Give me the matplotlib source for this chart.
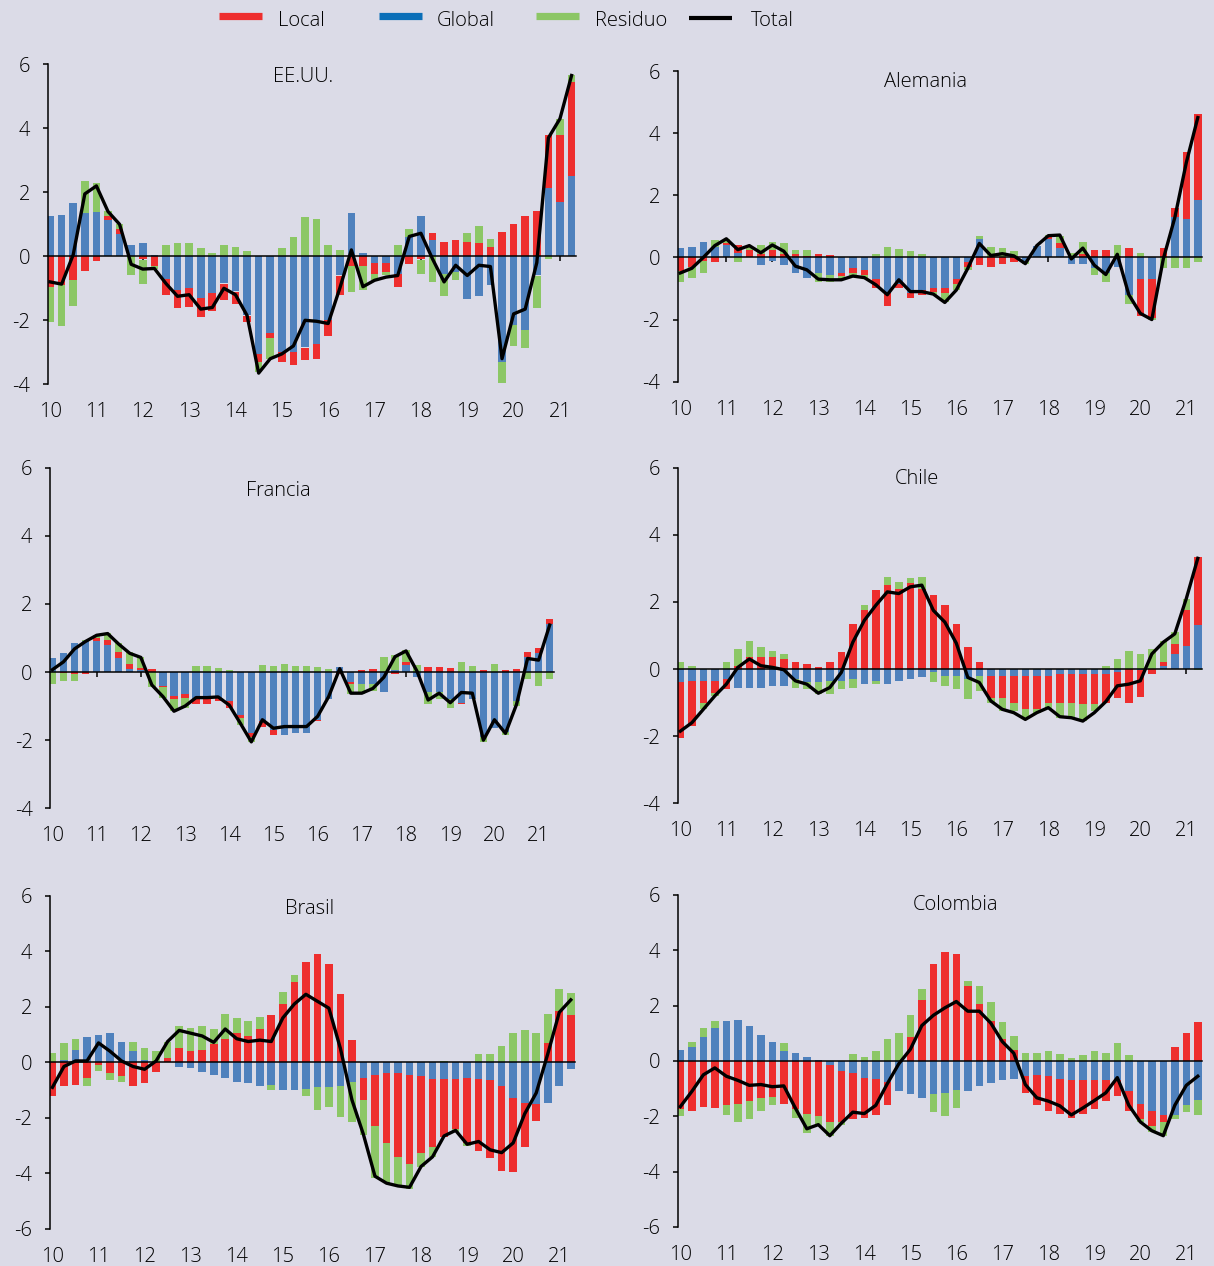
import numpy as np
import matplotlib.pyplot as plt
from matplotlib.lines import Line2D

plt.rcParams['font.family'] = ['Open Sans', 'DejaVu Sans']
plt.rcParams['font.weight'] = 'light'

W, H = 1214, 1266
FONDO = '#DBDBE7'
ROJO = '#EE2E2E'
AZUL = '#4F81BD'
VERDE = '#8CC766'

anios = ['10', '11', '12', '13', '14', '15', '16', '17', '18', '19', '20', '21']
trimestres = np.arange(46)   # 2010T1 .. 2021T2

# --- EE.UU. ---
eeuu_local = [-0.95, -0.9, -0.75, -0.45, -0.15, 0.1, 0.15, 0.0, -0.1, -0.3, -0.5, -0.55, -0.6, -0.6, -0.55, -0.5,
              -0.4, -0.2, -0.25, -0.15, -0.3, -0.4, -0.4, -0.45, -0.5, -0.6, -0.3, -0.3, -0.35, -0.3, -0.4, -0.25,
              -0.1, 0.22, 0.45, 0.5, 0.45, 0.42, 0.3, 0.75, 1.0, 1.25, 1.4, 1.65, 2.1, 2.95]
eeuu_global = [1.25, 1.3, 1.65, 1.35, 1.4, 1.15, 0.7, 0.35, 0.4, 0.05, -0.7, -1.05, -1.0, -1.3, -1.15, -0.85,
               -1.1, -1.85, -3.05, -2.4, -3.0, -3.0, -2.85, -2.75, -2.0, -0.6, 1.35, 0.1, -0.2, -0.2, -0.55, 0.6,
               1.27, 0.5, -0.55, -0.5, -1.35, -1.25, -0.9, -3.3, -2.15, -2.3, -0.6, 2.15, 1.7, 2.5]
eeuu_resid = [-1.1, -1.27, -0.8, 1.0, 0.9, 0.15, 0.15, -0.6, -0.75, -0.1, 0.35, 0.4, 0.42, 0.25, 0.1, 0.35,
              0.28, 0.18, -0.3, -0.65, 0.27, 0.6, 1.23, 1.15, 0.35, 0.2, -0.8, -0.75, -0.2, -0.1, 0.35, 0.25,
              -0.45, -0.8, -0.7, -0.25, 0.27, 0.53, 0.25, -0.65, -0.65, -0.55, -1.0, -0.1, 0.5, 0.2]
eeuu_total = [-0.8, -0.87, 0.05, 1.95, 2.2, 1.4, 1.0, -0.25, -0.4, -0.38, -0.85, -1.25, -1.2, -1.65, -1.6, -1.0,
              -1.2, -1.85, -3.65, -3.2, -3.05, -2.8, -2.0, -2.03, -2.1, -1.0, 0.2, -0.95, -0.75, -0.65, -0.6, 0.62,
              0.72, -0.08, -0.8, -0.28, -0.6, -0.28, -0.32, -3.2, -1.8, -1.65, -0.2, 3.7, 4.3, 5.65]

# --- Alemania ---
ale_local = [-0.45, -0.3, -0.1, -0.15, 0.05, 0.25, 0.25, 0.1, 0.25, 0.1, 0.1, 0.05, 0.1, 0.08, -0.1, -0.15,
             -0.15, -0.3, -0.4, -0.15, -0.15, -0.15, -0.1, -0.15, -0.15, -0.15, -0.25, -0.3, -0.2, -0.15, 0.0, 0.0,
             0.05, 0.15, 0.0, 0.1, 0.25, 0.25, 0.05, 0.3, -1.2, -1.25, 0.3, 0.3, 2.15, 2.75]
ale_global = [0.3, 0.35, 0.5, 0.35, 0.4, 0.15, 0.0, -0.25, -0.1, -0.25, -0.5, -0.65, -0.5, -0.55, -0.5, -0.35,
              -0.4, -0.7, -1.15, -0.85, -1.15, -1.05, -1.0, -1.0, -0.7, -0.15, 0.6, 0.0, 0.0, 0.0, -0.1, 0.38,
              0.6, 0.3, -0.2, -0.2, -0.35, -0.5, -0.3, -1.2, -0.7, -0.7, 0.0, 1.3, 1.25, 1.85]
ale_resid = [-0.35, -0.35, -0.4, 0.2, 0.15, -0.15, 0.1, 0.3, 0.25, 0.35, 0.15, 0.2, -0.3, -0.25, -0.1, -0.1,
             -0.1, 0.1, 0.35, 0.28, 0.2, 0.1, -0.1, -0.3, -0.2, -0.1, 0.1, 0.35, 0.3, 0.2, -0.1, 0.0,
             0.07, 0.25, 0.15, 0.4, -0.2, -0.3, 0.35, -0.3, 0.15, -0.05, -0.35, -0.35, -0.35, -0.15]
ale_total = [-0.5, -0.35, 0.0, 0.38, 0.6, 0.25, 0.38, 0.15, 0.4, 0.2, -0.28, -0.4, -0.7, -0.72, -0.72, -0.6,
             -0.65, -0.88, -1.2, -0.72, -1.1, -1.1, -1.18, -1.45, -1.05, -0.35, 0.45, 0.06, 0.12, 0.05, -0.2, 0.38,
             0.7, 0.72, -0.05, 0.3, -0.25, -0.55, 0.1, -1.2, -1.8, -2.0, -0.05, 1.28, 3.05, 4.5]

# --- Francia ---
fra_local = [0.0, -0.02, -0.05, -0.05, 0.1, 0.15, 0.2, 0.15, 0.07, 0.08, -0.05, -0.08, -0.1, -0.15, -0.15, -0.1,
             -0.2, -0.1, -0.1, -0.15, -0.15, 0.0, 0.0, 0.0, -0.05, 0.0, -0.05, -0.05, 0.05, 0.08, 0.0, -0.05,
             0.1, 0.0, 0.15, 0.15, 0.12, -0.05, 0.0, 0.05, 0.0, 0.05, 0.08, 0.15, 0.17, 0.15]
fra_global = [0.42, 0.55, 0.85, 0.9, 0.9, 0.8, 0.4, 0.1, 0.05, 0.0, -0.4, -0.7, -0.65, -0.8, -0.8, -0.75,
              -0.85, -1.25, -1.8, -1.45, -1.7, -1.85, -1.8, -1.8, -1.4, -0.8, 0.15, -0.3, -0.35, -0.35, -0.6, 0.05,
              0.2, -0.15, -0.6, -0.6, -0.8, -0.9, -0.8, -1.9, -1.65, -1.75, -0.85, 0.45, 0.55, 1.4]
fra_resid = [-0.35, -0.25, -0.2, 0.05, 0.08, 0.2, 0.25, 0.35, 0.33, -0.45, -0.3, -0.37, -0.3, 0.18, 0.18, 0.12,
             0.05, -0.2, -0.15, 0.2, 0.18, 0.25, 0.18, 0.18, 0.15, 0.1, 0.0, -0.3, -0.3, -0.2, 0.45, 0.45,
             0.35, 0.2, -0.35, -0.2, -0.25, 0.3, 0.18, -0.15, 0.25, -0.1, -0.15, -0.2, -0.4, -0.2]
fra_total = [0.07, 0.3, 0.68, 0.9, 1.08, 1.13, 0.82, 0.55, 0.43, -0.38, -0.72, -1.15, -1.0, -0.75, -0.75, -0.73,
             -0.97, -1.5, -2.05, -1.4, -1.65, -1.6, -1.6, -1.6, -1.3, -0.72, 0.1, -0.62, -0.62, -0.48, -0.15, 0.45,
             0.62, 0.02, -0.82, -0.62, -0.9, -0.6, -0.62, -2.0, -1.4, -1.8, -0.95, 0.4, 0.35, 1.38]

# --- Chile ---
chi_local = [-1.65, -1.35, -0.65, -0.35, -0.3, 0.1, 0.35, 0.35, 0.35, 0.3, 0.2, 0.15, 0.05, 0.2, 0.5, 1.35,
             1.75, 2.35, 2.5, 2.4, 2.55, 2.4, 2.2, 1.9, 1.35, 0.65, 0.2, -0.65, -0.65, -0.8, -1.0, -1.0,
             -0.8, -0.85, -0.85, -0.9, -0.9, -0.85, -0.75, -1.0, -0.8, -0.15, 0.1, 0.3, 1.05, 2.05]
chi_global = [-0.4, -0.35, -0.35, -0.35, -0.3, -0.55, -0.55, -0.55, -0.5, -0.5, -0.3, -0.4, -0.4, -0.35, -0.35, -0.3,
              -0.45, -0.35, -0.45, -0.35, -0.3, -0.25, -0.1, -0.2, -0.2, -0.3, -0.2, -0.2, -0.2, -0.2, -0.2, -0.2,
              -0.2, -0.15, -0.15, -0.15, -0.15, -0.15, -0.1, 0.0, -0.02, 0.0, 0.1, 0.45, 0.7, 1.3]
chi_resid = [0.2, 0.1, -0.2, -0.1, 0.2, 0.5, 0.5, 0.3, 0.2, 0.15, -0.25, -0.2, -0.35, -0.4, -0.25, -0.25,
             0.15, -0.1, 0.25, 0.2, 0.15, 0.35, -0.3, -0.3, -0.4, -0.6, -0.45, -0.15, -0.4, -0.25, -0.3, -0.1,
             -0.2, -0.45, -0.45, -0.5, -0.2, 0.1, 0.3, 0.55, 0.45, 0.6, 0.65, 0.35, 0.35, -0.02]
chi_total = [-1.85, -1.6, -1.2, -0.8, -0.45, 0.05, 0.3, 0.1, 0.05, -0.02, -0.35, -0.45, -0.72, -0.55, -0.1, 0.8,
             1.45, 1.9, 2.3, 2.25, 2.45, 2.5, 1.75, 1.4, 0.77, -0.25, -0.4, -0.95, -1.2, -1.3, -1.5, -1.3,
             -1.15, -1.42, -1.45, -1.55, -1.3, -0.97, -0.5, -0.45, -0.35, 0.45, 0.8, 1.05, 2.1, 3.3]

# --- Brasil ---
bra_local = [-1.2, -0.85, -0.8, -0.55, -0.1, -0.4, -0.5, -0.85, -0.75, -0.35, 0.15, 0.5, 0.4, 0.45, 0.65, 0.85,
             1.05, 0.95, 1.2, 1.7, 2.1, 2.9, 3.6, 3.9, 3.55, 2.45, 0.8, -0.8, -1.85, -2.5, -3.0, -3.2,
             -2.75, -2.45, -2.1, -1.8, -2.35, -2.6, -2.8, -3.05, -2.65, -1.6, -0.6, 0.7, 1.85, 1.7]
bra_global = [0.0, 0.1, 0.45, 0.9, 1.0, 1.05, 0.75, 0.4, 0.1, 0.0, 0.0, -0.15, -0.2, -0.35, -0.45, -0.55,
              -0.7, -0.75, -0.85, -0.8, -1.0, -1.0, -0.95, -0.9, -0.9, -0.85, -0.7, -0.55, -0.45, -0.4, -0.4, -0.45,
              -0.5, -0.6, -0.6, -0.6, -0.55, -0.6, -0.65, -0.85, -1.3, -1.45, -1.5, -1.45, -0.85, -0.25]
bra_resid = [0.35, 0.6, 0.4, -0.3, -0.2, -0.25, -0.2, 0.32, 0.4, 0.4, 0.6, 0.8, 0.85, 0.85, 0.55, 0.9,
             0.55, 0.55, 0.45, -0.2, 0.45, 0.25, -0.25, -0.8, -0.7, -1.1, -1.45, -1.25, -1.85, -1.45, -1.05, -0.9,
             -0.5, -0.35, 0.05, -0.1, -0.1, 0.3, 0.3, 0.6, 1.05, 1.15, 1.05, 1.05, 0.8, 0.8]
bra_total = [-0.9, -0.15, 0.05, 0.05, 0.7, 0.4, 0.05, -0.15, -0.25, 0.05, 0.75, 1.15, 1.05, 0.95, 0.72, 1.2,
             0.85, 0.75, 0.8, 0.75, 1.6, 2.1, 2.45, 2.2, 1.95, 0.5, -1.35, -2.6, -4.1, -4.35, -4.45, -4.5,
             -3.75, -3.4, -2.65, -2.45, -2.95, -2.85, -3.15, -3.25, -2.9, -1.85, -1.1, 0.3, 1.8, 2.25]

# --- Colombia ---
col_local = [-1.75, -1.8, -1.65, -1.7, -1.6, -1.55, -1.45, -1.35, -1.3, -1.55, -1.75, -1.9, -2.0, -2.05, -1.85, -1.65,
             -1.45, -1.3, -0.85, 0.0, 0.85, 2.2, 3.5, 3.95, 3.85, 2.7, 2.05, 1.45, 0.8, 0.4, -0.6, -1.1,
             -1.25, -1.25, -1.35, -1.2, -1.05, -0.75, -0.55, -0.7, -0.55, -0.55, -0.25, 0.5, 1.0, 1.4]
col_global = [0.4, 0.5, 0.85, 1.2, 1.45, 1.5, 1.25, 0.95, 0.7, 0.35, 0.3, 0.15, 0.05, -0.15, -0.35, -0.45,
              -0.6, -0.65, -0.75, -1.1, -1.2, -1.35, -1.2, -1.15, -1.05, -1.1, -0.9, -0.8, -0.7, -0.65, -0.55, -0.5,
              -0.55, -0.65, -0.7, -0.7, -0.7, -0.7, -0.7, -1.1, -1.55, -1.8, -1.95, -1.95, -1.6, -1.4]
col_resid = [-0.25, 0.2, 0.35, 0.25, -0.35, -0.65, -0.65, -0.45, -0.3, 0.3, -0.3, -0.7, -0.35, -0.5, -0.1, 0.25,
             0.15, 0.35, 0.8, 1.0, 0.8, 0.4, -0.65, -0.85, -0.65, 0.2, 0.65, 0.7, 0.6, 0.5, 0.3, 0.3,
             0.35, 0.25, 0.1, 0.2, 0.35, 0.3, 0.65, 0.2, -0.1, -0.2, -0.5, -0.15, -0.25, -0.55]
col_total = [-1.65, -1.1, -0.5, -0.25, -0.55, -0.7, -0.88, -0.85, -0.93, -0.9, -1.7, -2.45, -2.3, -2.7, -2.25, -1.85,
             -1.9, -1.6, -0.82, -0.1, 0.42, 1.28, 1.65, 1.92, 2.15, 1.8, 1.8, 1.37, 0.7, 0.28, -0.85, -1.33,
             -1.45, -1.62, -1.95, -1.7, -1.43, -1.15, -0.6, -1.6, -2.2, -2.52, -2.7, -1.6, -0.88, -0.55]


def caja(l, t, r, b):
    # rectangulo en pixeles -> fraccion de figura
    return [l / W, 1 - b / H, (r - l) / W, (b - t) / H]


# titulo, series, caja del eje (px), limite inferior, posicion del titulo (datos)
paneles = [
    ('EE.UU.', eeuu_local, eeuu_global, eeuu_resid, eeuu_total, (47.5, 64.3, 576.2, 384.3), -4, (21.8, 5.45)),
    ('Alemania', ale_local, ale_global, ale_resid, ale_total, (677.8, 71.0, 1202.4, 381.7), -4, (21.3, 5.5)),
    ('Francia', fra_local, fra_global, fra_resid, fra_total, (50.0, 467.7, 554.1, 808.3), -4, (20.4, 5.18)),
    ('Chile', chi_local, chi_global, chi_resid, chi_total, (677.8, 467.7, 1202.4, 803.3), -4, (20.6, 5.5)),
    ('Brasil', bra_local, bra_global, bra_resid, bra_total, (49.9, 895.7, 575.4, 1229.0), -6, (22.3, 5.33)),
    ('Colombia', col_local, col_global, col_resid, col_total, (677.8, 895.0, 1202.4, 1227.0), -6, (23.9, 5.44)),
]

fig = plt.figure(figsize=(W / 100, H / 100), dpi=100, facecolor=FONDO)

for titulo, loc, glo, res, tot, rect, ymin, tpos in paneles:
    ax = fig.add_axes(caja(*rect))
    ax.set_facecolor(FONDO)

    # barras apiladas: global abajo, luego local y residuo (positivos y negativos por separado)
    arriba = np.zeros(len(trimestres))
    abajo = np.zeros(len(trimestres))
    for serie, color in ((glo, AZUL), (loc, ROJO), (res, VERDE)):
        v = np.asarray(serie, dtype=float)
        base = np.where(v >= 0, arriba, abajo)
        ax.bar(trimestres, v, width=0.66, bottom=base, color=color, linewidth=0, zorder=2)
        arriba += np.clip(v, 0, None)
        abajo += np.clip(v, None, 0)

    ax.plot(trimestres, tot, color='black', lw=2.4, zorder=5, solid_joinstyle='round')

    ax.set_xlim(-0.22, 45.4)
    ax.set_ylim(ymin, 6)
    ax.set_yticks(np.arange(ymin, 7, 2))
    ax.set_yticklabels([str(v) for v in np.arange(ymin, 7, 2)])

    for s in ('top', 'right'):
        ax.spines[s].set_visible(False)
    ax.spines['left'].set_linewidth(1.1)
    ax.spines['bottom'].set_position(('data', 0))
    ax.spines['bottom'].set_linewidth(1.1)
    ax.spines['bottom'].set_zorder(4)

    ax.set_xticks(trimestres[::4])
    ax.tick_params(axis='x', length=3.6, width=1.1, direction='out', labelbottom=False)
    ax.tick_params(axis='y', length=3.6, width=1.1, direction='out', labelsize=14.5, pad=9)

    eje_x = ax.secondary_xaxis(0.0)
    eje_x.set_xticks(trimestres[::4], labels=anios)
    eje_x.tick_params(length=0, pad=13, labelsize=14.5)
    eje_x.spines['bottom'].set_visible(False)

    ax.text(tpos[0], tpos[1], titulo, ha='center', va='baseline', fontsize=14.5)

# leyenda superior
leyenda = [('Local', '#EE2E2E', 219, 278, 16, 5.2),
           ('Global', '#0B6FB8', 379, 437, 16, 5.2),
           ('Residuo', '#8CC665', 536, 595, 16, 5.2),
           ('Total', 'black', 689, 751, 18, 3.0)]
for nombre, color, x0, xt, yl, grosor in leyenda:
    fig.add_artist(Line2D([x0 / W, (x0 + 43) / W], [1 - yl / H, 1 - yl / H],
                          transform=fig.transFigure, color=color, lw=grosor, solid_capstyle='butt'))
    fig.text(xt / W, 1 - 25.7 / H, nombre, fontsize=14.5, va='baseline', ha='left')

fig.savefig('out.png', dpi=100, facecolor=FONDO)
